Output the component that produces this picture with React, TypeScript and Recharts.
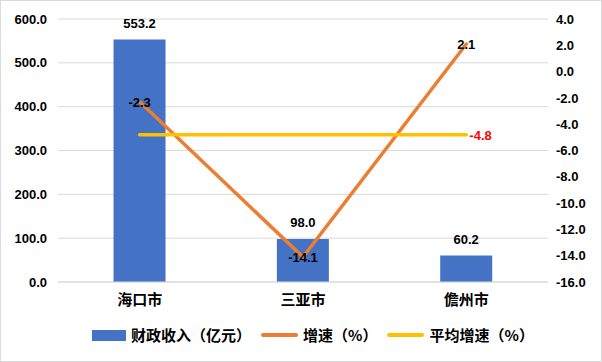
import { ComposedChart, Bar, Line, XAxis, YAxis, CartesianGrid, LabelList, Legend } from "recharts";

const categories = ["海口市", "三亚市", "儋州市"];
const revenue = [553.2, 98.0, 60.2];
const growth = [-2.3, -14.1, 2.1];
const avgGrowth = [-4.8, -4.8, -4.8];
const leftTicks = [0, 100, 200, 300, 400, 500, 600];
const rightTicks = [-16, -14, -12, -10, -8, -6, -4, -2, 0, 2, 4];

const data = categories.map((name, i) => ({
  name,
  revenue: revenue[i],
  growth: growth[i],
  avg: avgGrowth[i],
}));

const FONT = '"Liberation Sans", "Noto Sans CJK SC", sans-serif';
const CJK = '"Noto Sans CJK SC", sans-serif';

const legendItems = [
  { label: "财政收入（亿元）", color: "#4472C4", type: "rect" },
  { label: "增速（%）", color: "#ED7D31", type: "line" },
  { label: "平均增速（%）", color: "#FFC000", type: "line" },
];

function CustomLegend() {
  return (
    <div style={{ position: "absolute", left: 91, top: 0, display: "flex", alignItems: "center", marginTop: 10, fontFamily: CJK, fontSize: 15, fontWeight: "bold", color: "#000", lineHeight: "20px", whiteSpace: "nowrap" }}>
      {legendItems.map((item) => (
        <div key={item.label} style={{ display: "flex", alignItems: "center", marginRight: 10 }}>
          {item.type === "rect" ? (
            <div style={{ width: 34, height: 11, background: item.color, marginRight: 5 }} />
          ) : (
            <div style={{ width: 37, height: 4, borderRadius: 2, background: item.color, marginRight: 5 }} />
          )}
          <span>{item.label}</span>
        </div>
      ))}
    </div>
  );
}

function CenterLabel(props: any) {
  const { x, y, value } = props;
  return (
    <text x={x} y={y} dy={5} textAnchor="middle" fontSize={13} fontWeight="bold" fill="#000" fontFamily={FONT}>
      {Number(value).toFixed(1)}
    </text>
  );
}

function AvgLabel(props: any) {
  const { x, y, value, index } = props;
  if (index !== avgGrowth.length - 1) return null;
  return (
    <text x={x + 3} y={y} dy={5} textAnchor="start" fontSize={13} fontWeight="bold" fill="#FF0000" fontFamily={FONT}>
      {Number(value).toFixed(1)}
    </text>
  );
}

export default function App() {
  return (
    <div style={{ position: "absolute", left: 0, top: 0, width: 600, height: 360, border: "1px solid #d9d9d9", background: "#fff" }}>
      <ComposedChart
        width={600}
        height={360}
        data={data}
        margin={{ top: 18, right: 0, left: 0, bottom: 0 }}
        barCategoryGap="34%"
      >
        <CartesianGrid vertical={false} stroke="#d9d9d9" yAxisId="left" />
        <XAxis
          dataKey="name"
          axisLine={{ stroke: "#d9d9d9" }}
          tickLine={false}
          tickMargin={6}
          height={33}
          tick={{ fontSize: 15, fontWeight: "bold", fill: "#000", fontFamily: FONT }}
        />
        <YAxis
          yAxisId="left"
          domain={[0, 600]}
          ticks={leftTicks}
          axisLine={false}
          tickLine={false}
          tickMargin={5}
          width={57}
          tickFormatter={(v: number) => v.toFixed(1)}
          tick={{ fontSize: 13, fontWeight: "bold", fill: "#000", fontFamily: FONT }}
        />
        <YAxis
          yAxisId="right"
          orientation="right"
          domain={[-16, 4]}
          ticks={rightTicks}
          axisLine={false}
          tickLine={false}
          tickMargin={2}
          width={53}
          tickFormatter={(v: number) => v.toFixed(1)}
          tick={{ fontSize: 13, fontWeight: "bold", fill: "#000", fontFamily: FONT }}
        />
        <Legend verticalAlign="bottom" height={46} wrapperStyle={{ left: 0, width: 600 }} content={<CustomLegend />} />
        <Bar yAxisId="left" dataKey="revenue" fill="#4472C4" isAnimationActive={false}>
          <LabelList
            dataKey="revenue"
            position="top"
            offset={12}
            formatter={(v: any) => Number(v).toFixed(1)}
            style={{ fontSize: 13, fontWeight: "bold", fill: "#000", fontFamily: FONT }}
          />
        </Bar>
        <Line yAxisId="right" dataKey="growth" stroke="#ED7D31" strokeWidth={3.5} strokeLinecap="round" dot={false} isAnimationActive={false}>
          <LabelList dataKey="growth" content={<CenterLabel />} />
        </Line>
        <Line yAxisId="right" dataKey="avg" stroke="#FFC000" strokeWidth={3.5} strokeLinecap="round" dot={false} isAnimationActive={false}>
          <LabelList dataKey="avg" content={<AvgLabel />} />
        </Line>
      </ComposedChart>
    </div>
  );
}
